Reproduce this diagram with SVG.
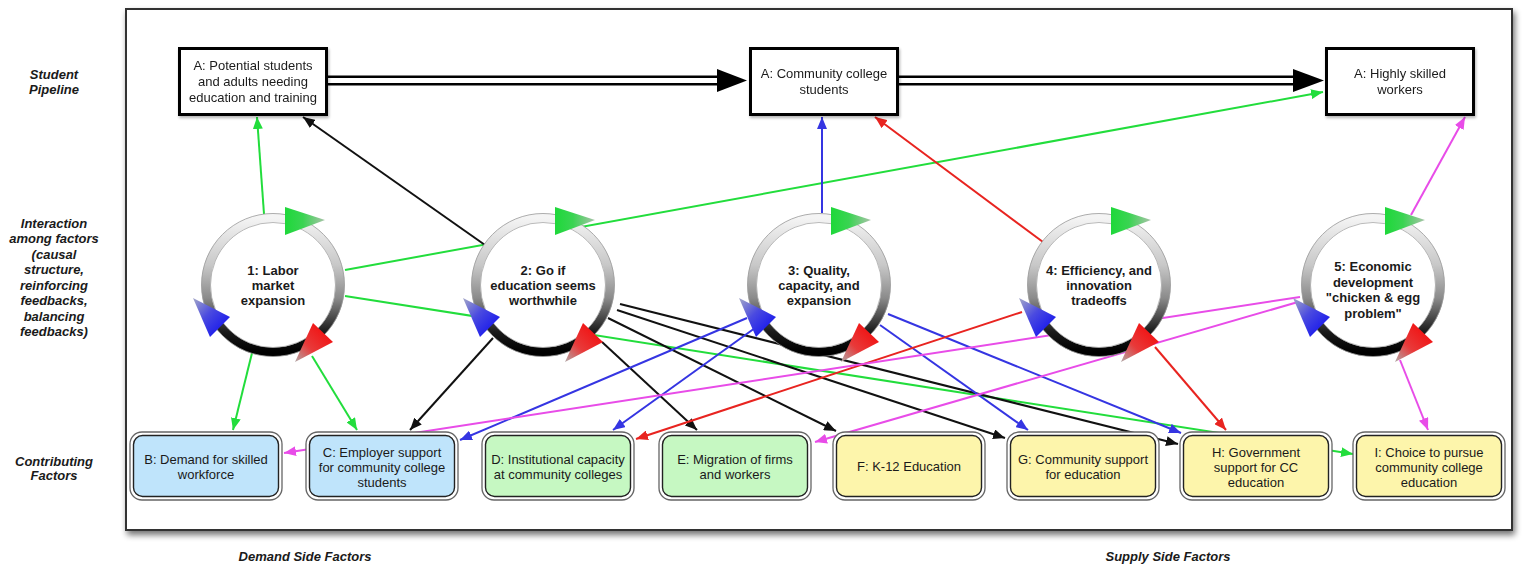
<svg xmlns="http://www.w3.org/2000/svg" xmlns:xlink="http://www.w3.org/1999/xlink" width="1523" height="565" viewBox="0 0 1523 565">
<style>
text{font-family:"Liberation Sans",Arial,Helvetica,sans-serif;font-size:13px;fill:#1a1a1a;text-anchor:middle}
.lab{font-weight:bold;font-style:italic}
.lt{font-weight:bold}
.conn line{stroke-width:2;fill:none}
.conn line.pipeO{stroke:#000;stroke-width:10}
.conn line.pipeI{stroke:#fff;stroke-width:5}
.g{stroke:#22dd3c;marker-end:url(#mg)}
.k{stroke:#111;marker-end:url(#mk)}
.b{stroke:#3535e2;marker-end:url(#mb)}
.r{stroke:#e82420;marker-end:url(#mr)}
.m{stroke:#e84ce8;marker-end:url(#mm)}
.topbox{fill:#fff;stroke:#000;stroke-width:3}
.outer{fill:#fff;stroke:#666;stroke-width:1.3}
.inner{stroke:#222;stroke-width:1.4}
.blue{fill:#bfe4fb}.green{fill:#c6f8c2}.yellow{fill:#fdf5ab}
</style>
<defs>
<filter id="sh" x="-5%" y="-5%" width="110%" height="115%">
<feGaussianBlur in="SourceAlpha" stdDeviation="3"/><feOffset dx="2" dy="4"/>
<feComponentTransfer><feFuncA type="linear" slope="0.55"/></feComponentTransfer>
<feMerge><feMergeNode/><feMergeNode in="SourceGraphic"/></feMerge>
</filter>
<filter id="sh2" x="-10%" y="-10%" width="125%" height="130%">
<feGaussianBlur in="SourceAlpha" stdDeviation="1.5"/><feOffset dx="1" dy="2"/>
<feComponentTransfer><feFuncA type="linear" slope="0.3"/></feComponentTransfer>
<feMerge><feMergeNode/><feMergeNode in="SourceGraphic"/></feMerge>
</filter>
<marker id="mg" markerUnits="userSpaceOnUse" markerWidth="12" markerHeight="10" refX="12" refY="5" orient="auto"><path d="M0,0 L12,5 L0,10 z" fill="#22dd3c"/></marker>
<marker id="mk" markerUnits="userSpaceOnUse" markerWidth="12" markerHeight="10" refX="12" refY="5" orient="auto"><path d="M0,0 L12,5 L0,10 z" fill="#111"/></marker>
<marker id="mb" markerUnits="userSpaceOnUse" markerWidth="12" markerHeight="10" refX="12" refY="5" orient="auto"><path d="M0,0 L12,5 L0,10 z" fill="#3535e2"/></marker>
<marker id="mr" markerUnits="userSpaceOnUse" markerWidth="12" markerHeight="10" refX="12" refY="5" orient="auto"><path d="M0,0 L12,5 L0,10 z" fill="#e82420"/></marker>
<marker id="mm" markerUnits="userSpaceOnUse" markerWidth="12" markerHeight="10" refX="12" refY="5" orient="auto"><path d="M0,0 L12,5 L0,10 z" fill="#e84ce8"/></marker>
<linearGradient id="ringG" x1="0" y1="0" x2="0" y2="1">
<stop offset="0" stop-color="#f4f4f4"/><stop offset="0.35" stop-color="#c8c8c8"/><stop offset="0.6" stop-color="#8a8a8a"/><stop offset="0.85" stop-color="#1a1a1a"/><stop offset="1" stop-color="#000"/>
</linearGradient>
<linearGradient id="gG" x1="0" y1="0" x2="1" y2="0">
<stop offset="0" stop-color="#1ed83a"/><stop offset="0.45" stop-color="#3ad452"/><stop offset="1" stop-color="#a9c4a9"/>
</linearGradient>
<linearGradient id="bG" x1="0" y1="0" x2="0.75" y2="0.75">
<stop offset="0" stop-color="#a4a8c8"/><stop offset="0.55" stop-color="#4a4ae0"/><stop offset="1" stop-color="#2222ea"/>
</linearGradient>
<linearGradient id="rG" x1="0" y1="1" x2="0.74" y2="0.24">
<stop offset="0" stop-color="#b0a8a8"/><stop offset="0.5" stop-color="#e83a3a"/><stop offset="1" stop-color="#f01818"/>
</linearGradient>
<g id="loopIcon">
<circle r="67" fill="#fff" stroke="url(#ringG)" stroke-width="9"/>
<circle r="71.5" fill="none" stroke="#999" stroke-width="0.8"/>
<circle r="62.5" fill="none" stroke="#aaa" stroke-width="0.8"/>
<polygon points="12,-78 52,-65 12,-50" fill="url(#gG)"/>
<polygon points="-80,13 -43,32 -63,52" fill="url(#bG)"/>
<polygon points="60,57 40,38 22,77" fill="url(#rG)"/>
</g>
</defs>

<rect x="0" y="0" width="1523" height="565" fill="#fff"/>
<rect id="frame" x="126" y="9" width="1386" height="521" fill="#fff" stroke="#333" stroke-width="2" filter="url(#sh)"/>

<g id="labels">
<text class="lab" x="54" y="78.5">Student</text>
<text class="lab" x="54" y="93.5">Pipeline</text>
<text class="lab" x="54" y="227.5">Interaction</text>
<text class="lab" x="54" y="243">among factors</text>
<text class="lab" x="54" y="258.5">(causal</text>
<text class="lab" x="54" y="274">structure,</text>
<text class="lab" x="54" y="289.5">reinforcing</text>
<text class="lab" x="54" y="305">feedbacks,</text>
<text class="lab" x="54" y="320.5">balancing</text>
<text class="lab" x="54" y="336">feedbacks)</text>
<text class="lab" x="54" y="465.5">Contributing</text>
<text class="lab" x="54" y="480">Factors</text>
<text class="lab" x="305" y="560.5">Demand Side Factors</text>
<text class="lab" x="1168" y="560.5">Supply Side Factors</text>
</g>

<g id="connectors" class="conn">
<line class="pipeO" x1="328" y1="80.5" x2="720" y2="80.5"/>
<line class="pipeI" x1="328" y1="80.5" x2="718" y2="80.5"/>
<polygon points="717,69 747,80.5 717,92" fill="#000"/>
<line class="pipeO" x1="899" y1="80.5" x2="1296" y2="80.5"/>
<line class="pipeI" x1="899" y1="80.5" x2="1294" y2="80.5"/>
<polygon points="1293,69 1324,80.5 1293,92" fill="#000"/>

<line class="g" x1="264" y1="214" x2="257" y2="117"/>
<line class="g" x1="345" y1="270" x2="1323" y2="92"/>
<line class="g" x1="345" y1="296" x2="1353" y2="454"/>
<line class="g" x1="252" y1="353" x2="233" y2="430"/>
<line class="g" x1="312" y1="356" x2="357" y2="430"/>

<line class="k" x1="485" y1="245" x2="303" y2="117"/>
<line class="k" x1="493" y1="338" x2="410" y2="430"/>
<line class="k" x1="602" y1="342" x2="697" y2="430"/>
<line class="k" x1="608" y1="318" x2="836" y2="431"/>
<line class="k" x1="617" y1="310" x2="1005" y2="438"/>
<line class="k" x1="620" y1="304" x2="1178" y2="444"/>

<line class="b" x1="822" y1="213" x2="822" y2="117"/>
<line class="b" x1="747" y1="318" x2="460" y2="440"/>
<line class="b" x1="755" y1="328" x2="613" y2="430"/>
<line class="b" x1="880" y1="325" x2="1028" y2="430"/>
<line class="b" x1="888" y1="314" x2="1181" y2="433"/>

<line class="r" x1="1043" y1="242" x2="875" y2="117"/>
<line class="r" x1="1022" y1="312" x2="636" y2="439"/>
<line class="r" x1="1155" y1="347" x2="1226" y2="430"/>

<line class="m" x1="1411" y1="215" x2="1465" y2="117"/>
<line class="m" x1="1300" y1="297" x2="284" y2="453"/>
<line class="m" x1="1298" y1="302" x2="815" y2="442"/>
<line class="m" x1="1400" y1="360" x2="1428" y2="430"/>
</g>

<g id="A1" filter="url(#sh2)"><rect class="topbox" x="179.5" y="48.5" width="147" height="66"/>
<text x="253" y="70">A: Potential students</text><text x="253" y="86">and adults needing</text><text x="253" y="102">education and training</text></g>
<g id="A2" filter="url(#sh2)"><rect class="topbox" x="750.5" y="48.5" width="147" height="66"/>
<text x="824" y="78">A: Community college</text><text x="824" y="93.5">students</text></g>
<g id="A3" filter="url(#sh2)"><rect class="topbox" x="1326.5" y="48.5" width="147" height="66"/>
<text x="1400" y="78">A: Highly skilled</text><text x="1400" y="93.5">workers</text></g>

<g id="loop1" transform="translate(273,285)"><use xlink:href="#loopIcon" href="#loopIcon"/>
<text class="lt" y="-10">1: Labor</text><text class="lt" y="5">market</text><text class="lt" y="20">expansion</text></g>
<g id="loop2" transform="translate(543,285)"><use xlink:href="#loopIcon" href="#loopIcon"/>
<text class="lt" y="-10">2: Go if</text><text class="lt" y="5">education seems</text><text class="lt" y="20">worthwhile</text></g>
<g id="loop3" transform="translate(819,285)"><use xlink:href="#loopIcon" href="#loopIcon"/>
<text class="lt" y="-10">3: Quality,</text><text class="lt" y="5">capacity, and</text><text class="lt" y="20">expansion</text></g>
<g id="loop4" transform="translate(1099,285)"><use xlink:href="#loopIcon" href="#loopIcon"/>
<text class="lt" y="-10">4: Efficiency, and</text><text class="lt" y="5">innovation</text><text class="lt" y="20">tradeoffs</text></g>
<g id="loop5" transform="translate(1373,285)"><use xlink:href="#loopIcon" href="#loopIcon"/>
<text class="lt" y="-14">5: Economic</text><text class="lt" y="1.5">development</text><text class="lt" y="17">"chicken &amp; egg</text><text class="lt" y="32.5">problem"</text></g>

<g id="B"><rect class="outer" x="130" y="432" width="152" height="68" rx="12"/><rect class="inner blue" x="133.5" y="435.5" width="145" height="61" rx="9"/>
<text x="206" y="463.5">B: Demand for skilled</text><text x="206" y="478.5">workforce</text></g>
<g id="C"><rect class="outer" x="306" y="432" width="152" height="68" rx="12"/><rect class="inner blue" x="309.5" y="435.5" width="145" height="61" rx="9"/>
<text x="382" y="456.5">C: Employer support</text><text x="382" y="471.5">for community college</text><text x="382" y="486.5">students</text></g>
<g id="D"><rect class="outer" x="482" y="432" width="152" height="68" rx="12"/><rect class="inner green" x="485.5" y="435.5" width="145" height="61" rx="9"/>
<text x="558" y="463.5">D: Institutional capacity</text><text x="558" y="478.5">at community colleges</text></g>
<g id="E"><rect class="outer" x="659" y="432" width="152" height="68" rx="12"/><rect class="inner green" x="662.5" y="435.5" width="145" height="61" rx="9"/>
<text x="735" y="463.5">E: Migration of firms</text><text x="735" y="478.5">and workers</text></g>
<g id="F"><rect class="outer" x="833" y="432" width="152" height="68" rx="12"/><rect class="inner yellow" x="836.5" y="435.5" width="145" height="61" rx="9"/>
<text x="909" y="470.5">F: K-12 Education</text></g>
<g id="G"><rect class="outer" x="1007" y="432" width="152" height="68" rx="12"/><rect class="inner yellow" x="1010.5" y="435.5" width="145" height="61" rx="9"/>
<text x="1083" y="463.5">G: Community support</text><text x="1083" y="478.5">for education</text></g>
<g id="H"><rect class="outer" x="1180" y="432" width="152" height="68" rx="12"/><rect class="inner yellow" x="1183.5" y="435.5" width="145" height="61" rx="9"/>
<text x="1256" y="456.5">H: Government</text><text x="1256" y="471.5">support for CC</text><text x="1256" y="486.5">education</text></g>
<g id="I"><rect class="outer" x="1353" y="432" width="152" height="68" rx="12"/><rect class="inner yellow" x="1356.5" y="435.5" width="145" height="61" rx="9"/>
<text x="1429" y="456.5">I: Choice to pursue</text><text x="1429" y="471.5">community college</text><text x="1429" y="486.5">education</text></g>
</svg>
